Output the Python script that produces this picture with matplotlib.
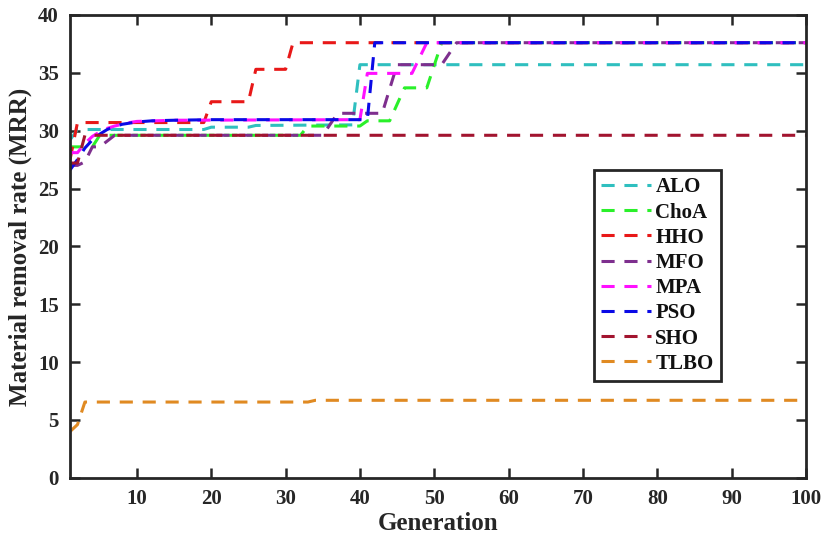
import matplotlib
matplotlib.use("Agg")
import matplotlib.pyplot as plt

plt.rcParams['font.family'] = ['Liberation Serif', 'DejaVu Serif']
plt.rcParams['font.weight'] = 'bold'

# Data: breakpoints (generation, MRR)
alo_gen = [1, 2, 19, 20, 25, 26, 39, 40, 100]
alo_val = [29.2, 30.1, 30.1, 30.3, 30.3, 30.45, 30.5, 35.7, 35.7]

choa_gen = [1, 4, 5, 32, 33, 40, 41, 44, 46, 49, 51, 100]
choa_val = [28.6, 28.6, 29.6, 29.6, 30.4, 30.4, 30.85, 30.85, 33.7, 33.7, 37.6, 37.6]

hho_gen = [1, 2, 19, 20, 25, 26, 30, 31, 100]
hho_val = [27.5, 30.7, 30.7, 32.5, 32.5, 35.3, 35.3, 37.6, 37.6]

mfo_gen = [1, 2, 3, 4, 5, 6, 7, 35, 37, 43, 45, 51, 53, 100]
mfo_val = [27.0, 27.0, 27.3, 28.6, 28.6, 29.1, 29.6, 29.6, 31.5, 31.5, 35.7, 35.7, 37.6, 37.6]

mpa_gen = [1, 2, 3, 4, 5, 6, 7, 8, 9, 10, 15, 40, 41, 47, 49, 100]
mpa_val = [28.1, 28.1, 28.9, 29.5, 29.9, 30.2, 30.4, 30.55, 30.7, 30.8, 30.9, 30.95, 34.95, 34.95, 37.6, 37.6]

pso_gen = [1, 2, 3, 4, 5, 6, 7, 8, 9, 10, 12, 15, 20, 41, 42, 100]
pso_val = [26.6, 27.5, 28.5, 29.2, 29.7, 30.1, 30.35, 30.55, 30.65, 30.75, 30.85, 30.9, 30.95, 30.95, 37.6, 37.6]

sho_gen = [1, 2, 3, 100]
sho_val = [27.2, 27.2, 29.6, 29.6]

tlbo_gen = [1, 2, 3, 33, 34, 100]
tlbo_val = [4.0, 4.6, 6.55, 6.55, 6.7, 6.7]

labels = ["ALO", "ChoA", "HHO", "MFO", "MPA", "PSO", "SHO", "TLBO"]
series = [(alo_gen, alo_val), (choa_gen, choa_val), (hho_gen, hho_val),
          (mfo_gen, mfo_val), (mpa_gen, mpa_val), (pso_gen, pso_val),
          (sho_gen, sho_val), (tlbo_gen, tlbo_val)]
colors = ["#2fbfbf", "#2af02a", "#e81818", "#7e2f8e", "#ff10ff", "#0a0ae6",
          "#a2142f", "#e08a22"]

x_ticks = [10, 20, 30, 40, 50, 60, 70, 80, 90, 100]
y_ticks = [0, 5, 10, 15, 20, 25, 30, 35, 40]

fig = plt.figure(figsize=(8.24, 5.43), dpi=100)
ax = fig.add_axes([0.085, 0.12, 0.893, 0.8525])

for (g, v), lab, c in zip(series, labels, colors):
    ax.plot(g, v, color=c, lw=2.2, linestyle=(0, (4.3, 3.2)), label=lab)

ax.set_xlim(1, 100)
ax.set_ylim(0, 40)
ax.set_xticks(x_ticks)
ax.set_yticks(y_ticks)
ax.tick_params(direction='in', length=7, width=1.8, top=True, right=True,
               labelsize=15, colors='#262626', pad=8)
for lbl in ax.get_xticklabels() + ax.get_yticklabels():
    lbl.set_fontweight('bold')
    lbl.set_color('#262626')
for sp in ax.spines.values():
    sp.set_linewidth(2.0)
    sp.set_color('#262626')

ax.set_xlabel("Generation", fontsize=18, fontweight='bold', color='#262626', labelpad=2)
ax.set_ylabel("Material removal rate (MRR)", fontsize=18, fontweight='bold',
              color='#262626', labelpad=4)

leg = ax.legend(loc='upper left', bbox_to_anchor=(0.712, 0.665), fancybox=False,
                framealpha=1, edgecolor='#262626', fontsize=15,
                handlelength=2.4, handletextpad=0.2, labelspacing=0.25,
                borderpad=0.35, borderaxespad=0)
leg.get_frame().set_linewidth(2.0)
for t in leg.get_texts():
    t.set_fontweight('bold')
    t.set_color('#111111')

fig.savefig("out.png", dpi=100)
